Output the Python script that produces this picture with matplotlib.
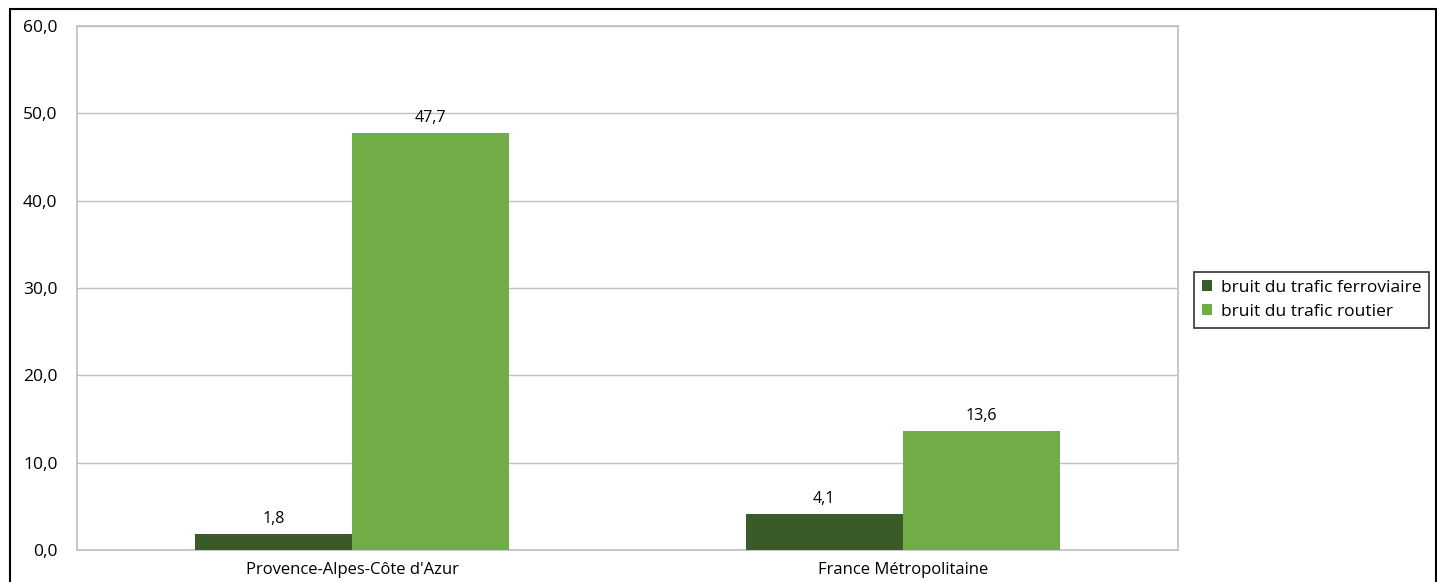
import matplotlib
matplotlib.use("Agg")
import matplotlib.pyplot as plt
import numpy as np
from matplotlib.patches import Rectangle

categories = ["Provence-Alpes-Côte d'Azur", "France Métropolitaine"]
series_names = ["bruit du trafic ferroviaire", "bruit du trafic routier"]
ferroviaire = [1.8, 4.1]
routier = [47.7, 13.6]
yticks = [0, 10, 20, 30, 40, 50, 60]

colors = ["#3A5A2A", "#70AD47"]
plt.rcParams['font.family'] = ['Open Sans', 'DejaVu Sans']

fig = plt.figure(figsize=(14.37, 5.82), dpi=100)
ax = fig.add_axes([77/1437, 32/582, (1178-77)/1437, (550-26)/582])

x = np.arange(len(categories))
w = 0.285
b1 = ax.bar(x - w/2, ferroviaire, w, color=colors[0], label=series_names[0], zorder=3)
b2 = ax.bar(x + w/2, routier, w, color=colors[1], label=series_names[1], zorder=3)

def fmt(v):
    return f"{v:.1f}".replace(".", ",")

for bars, vals in ((b1, ferroviaire), (b2, routier)):
    for r, v in zip(bars, vals):
        ax.annotate(fmt(v), (r.get_x() + r.get_width()/2, v), xytext=(0, 5),
                    textcoords="offset points", ha="center", va="bottom", fontsize=11.5)

ax.set_xlim(-0.5, 1.5)
ax.set_ylim(0, 60)
ax.set_yticks(yticks)
ax.set_yticklabels([fmt(v) for v in yticks], fontsize=12.5)
ax.set_xticks(x)
ax.set_xticklabels(categories, fontsize=12)
ax.tick_params(axis='both', length=0)
ax.tick_params(axis='y', pad=14)
ax.tick_params(axis='x', pad=9)
ax.grid(axis='y', color='#c0c0c0', linewidth=1, zorder=0)
for s in ax.spines.values():
    s.set_color('#bfbfbf')
    s.set_linewidth(1.2)

leg = fig.legend(loc='center left', bbox_to_anchor=(1194/1437, 1 - 300/582),
                 fontsize=12.5, frameon=True, fancybox=False, edgecolor='black',
                 handlelength=0.6, handleheight=0.6, handletextpad=0.5,
                 borderpad=0.45, labelspacing=0.45, borderaxespad=0)
leg.get_frame().set_linewidth(1.2)

fig.patches.append(Rectangle((10/1437, -0.1), (1436-10)/1437, 1.1 - 9/582,
                             transform=fig.transFigure, fill=False,
                             edgecolor='black', linewidth=1.5))

fig.savefig("out.png", dpi=100)
